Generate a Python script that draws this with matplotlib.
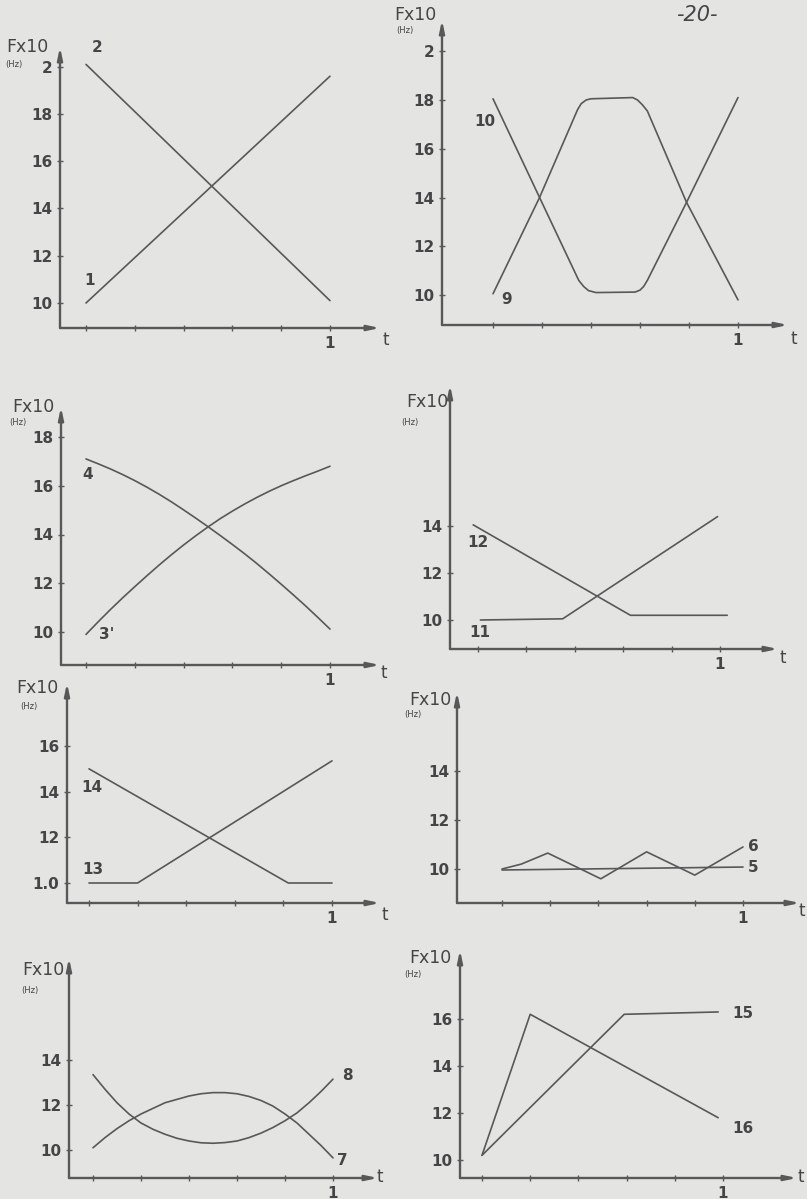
import matplotlib
matplotlib.use("Agg")
from matplotlib import pyplot as plt

W, H = 807, 1199
paper = "#e4e4e2"
ink = "#585858"
txt = "#454545"

x_ticks = [0, 0.2, 0.4, 0.6, 0.8, 1.0]
x_ticklabels = ["", "", "", "", "", "1"]

# panneau 1 : courbes 1 et 2
t_1 = [0, 1.0]
f_1 = [10.0, 19.6]
t_2 = [0, 1.0]
f_2 = [20.1, 10.1]
yt_a = [10, 12, 14, 16, 18, 20]
yl_a = ["10", "12", "14", "16", "18", "2"]

# panneau 2 : courbes 9 et 10
t_9 = [0, 0.19, 0.345, 0.36, 0.38, 0.40, 0.57, 0.59, 0.61, 0.63, 0.79, 1.0]
f_9 = [10.05, 14.0, 17.6, 17.85, 18.0, 18.05, 18.1, 18.0, 17.8, 17.55, 13.8, 9.8]
t_10 = [0, 0.19, 0.35, 0.37, 0.39, 0.42, 0.58, 0.60, 0.615, 0.63, 0.79, 1.0]
f_10 = [18.05, 14.0, 10.6, 10.35, 10.18, 10.1, 10.12, 10.2, 10.35, 10.6, 13.8, 18.1]
yt_b = [10, 12, 14, 16, 18, 20]
yl_b = ["10", "12", "14", "16", "18", "2"]

# panneau 3 : courbes 3 et 4
t_34 = [0, 0.05, 0.1, 0.15, 0.2, 0.25, 0.3, 0.35, 0.4, 0.45, 0.5,
        0.55, 0.6, 0.65, 0.7, 0.75, 0.8, 0.85, 0.9, 0.95, 1.0]
f_3 = [9.9, 10.42, 10.92, 11.4, 11.86, 12.31, 12.75, 13.17, 13.57, 13.95, 14.31,
       14.65, 14.96, 15.25, 15.52, 15.77, 16.0, 16.21, 16.41, 16.6, 16.8]
f_4 = [17.1, 16.9, 16.69, 16.46, 16.21, 15.94, 15.65, 15.34, 15.01, 14.67, 14.32,
       13.96, 13.59, 13.21, 12.81, 12.39, 11.96, 11.52, 11.07, 10.6, 10.12]
yt_c = [10, 12, 14, 16, 18]
yl_c = ["10", "12", "14", "16", "18"]

# panneau 4 : courbes 11 et 12
t_11 = [0.01, 0.35, 0.99]
f_11 = [10.0, 10.05, 14.4]
t_12 = [-0.02, 0.63, 1.03]
f_12 = [14.05, 10.2, 10.2]
yt_d = [10, 12, 14]
yl_d = ["10", "12", "14"]

# panneau 5 : courbes 13 et 14
t_13 = [0, 0.2, 1.0]
f_13 = [10.0, 10.0, 15.35]
t_14 = [0, 0.82, 1.0]
f_14 = [15.0, 10.0, 10.0]
yt_e = [10, 12, 14, 16]
yl_e = ["1.0", "12", "14", "16"]

# panneau 6 : courbes 5 et 6
t_5 = [0, 1.0]
f_5 = [9.96, 10.08]
t_6 = [0, 0.08, 0.19, 0.41, 0.6, 0.8, 1.0]
f_6 = [10.0, 10.2, 10.65, 9.6, 10.7, 9.75, 10.9]
yt_f = [10, 12, 14]
yl_f = ["10", "12", "14"]

# panneau 7 : courbes 7 et 8
t_78 = [0, 0.05, 0.1, 0.15, 0.2, 0.25, 0.3, 0.35, 0.4, 0.45, 0.5,
        0.55, 0.6, 0.65, 0.7, 0.75, 0.8, 0.85, 0.9, 0.95, 1.0]
f_7 = [10.1, 10.55, 10.95, 11.3, 11.6, 11.85, 12.1, 12.25, 12.4, 12.5, 12.55,
       12.55, 12.5, 12.38, 12.2, 11.95, 11.6, 11.2, 10.7, 10.2, 9.65]
f_8 = [13.35, 12.7, 12.1, 11.6, 11.2, 10.92, 10.7, 10.52, 10.4, 10.32, 10.3,
       10.33, 10.4, 10.55, 10.75, 11.0, 11.3, 11.65, 12.1, 12.6, 13.15]
yt_g = [10, 12, 14]
yl_g = ["10", "12", "14"]

# panneau 8 : courbes 15 et 16
t_15 = [0, 0.59, 0.98]
f_15 = [10.2, 16.2, 16.3]
t_16 = [0, 0.2, 0.98]
f_16 = [10.2, 16.2, 11.8]
yt_h = [10, 12, 14, 16]
yl_h = ["10", "12", "14", "16"]

plt.rcParams["font.family"] = ["DejaVu Sans"]
fig = plt.figure(figsize=(W / 100, H / 100), dpi=100, facecolor=paper)


def px(x, y):
    return x / W, 1 - y / H


def panel(box, tcal, fcal, yticks, ylabels, toff):
    """box = (gauche, haut, droite, bas) en pixels ; tcal = pixels de t=0 et t=1 ;
    fcal = deux couples (F, pixel y) ; toff = decalage du 't' en pixels"""
    left, top, right, bottom = box
    ta, tb = tcal
    (fa, ya), (fb, yb) = fcal
    ax = fig.add_axes([left / W, 1 - bottom / H, (right - left) / W, (bottom - top) / H])
    ax.set_xlim((left - ta) / (tb - ta), (right - ta) / (tb - ta))
    upf = (ya - yb) / (fb - fa)
    ax.set_ylim(fa - (bottom - ya) / upf, fa + (ya - top) / upf)
    ax.patch.set_alpha(0)
    for s in ax.spines.values():
        s.set_visible(False)
    arrow = dict(arrowstyle="-|>,head_length=0.7,head_width=0.15", color=ink, lw=1.7,
                 shrinkA=0, shrinkB=0)
    ax.annotate("", xy=(0, 1), xytext=(0, 0), xycoords="axes fraction", arrowprops=arrow)
    ax.annotate("", xy=(1, 0), xytext=(0, 0), xycoords="axes fraction", arrowprops=arrow)
    ax.set_xticks(x_ticks)
    ax.set_xticklabels(x_ticklabels)
    ax.set_yticks(yticks)
    ax.set_yticklabels(ylabels)
    ax.tick_params(direction="inout", length=5, width=1, color=ink, labelcolor=txt,
                   labelsize=11, pad=3)
    for lab in ax.get_yticklabels() + ax.get_xticklabels():
        lab.set_fontweight("bold")
    ax.annotate("t", xy=(1, 0), xycoords="axes fraction",
                xytext=(toff[0] * 0.72, -toff[1] * 0.72), textcoords="offset points",
                fontsize=12, color=txt, ha="center", va="center")
    return ax


def curve(ax, t, f):
    ax.plot(t, f, color=ink, lw=1.2, clip_on=False, solid_capstyle="round",
            solid_joinstyle="round")


def label(ax, t, f, s, ha="center"):
    ax.text(t, f, s, fontsize=11, color=txt, ha=ha, va="center", fontweight="bold")


def unit(xf, yf, xh, yh):
    fig.text(*px(xf, yf), "Fx10", fontsize=12.5, color=txt, ha="center", va="center")
    fig.text(*px(xh, yh), "(Hz)", fontsize=6, color=txt, ha="center", va="center")


# 1 - 2
ax = panel((60, 47, 380, 328), (86, 330), ((10, 303), (18, 114)), yt_a, yl_a, (6, 12))
curve(ax, t_1, f_1)
curve(ax, t_2, f_2)
label(ax, 0.045, 20.8, "2")
label(ax, 0.016, 10.97, "1")
unit(27, 47, 14, 64)

# 9 - 10
ax = panel((442, 20, 788, 325), (493, 738), ((10, 295), (18, 100)), yt_b, yl_b, (6, 14))
curve(ax, t_9, f_9)
curve(ax, t_10, f_10)
label(ax, -0.033, 17.1, "10")
label(ax, 0.057, 9.8, "9")
unit(415, 15, 405, 31)
fig.text(*px(697, 15), "-20-", fontsize=15, color=txt, ha="center", va="center",
         fontstyle="italic")

# 3 - 4
ax = panel((61, 407, 380, 665), (86, 330), ((10, 632), (18, 437)), yt_c, yl_c, (4, 8))
curve(ax, t_34, f_3)
curve(ax, t_34, f_4)
label(ax, 0.008, 16.45, "4")
label(ax, 0.086, 9.88, "3'")
unit(33, 407, 18, 423)

# 11 - 12
ax = panel((450, 385, 778, 649), (478, 720), ((10, 620), (14, 526)), yt_d, yl_d, (5, 9))
curve(ax, t_11, f_11)
curve(ax, t_12, f_12)
label(ax, 0.0, 13.3, "12")
label(ax, 0.008, 9.45, "11")
unit(427, 402, 410, 422)

# 13 - 14
ax = panel((67, 683, 380, 903), (89, 332), ((10, 883), (16, 746)), yt_e, yl_e, (5, 12))
curve(ax, t_13, f_13)
curve(ax, t_14, f_14)
label(ax, 0.012, 14.17, "14")
label(ax, 0.016, 10.57, "13")
unit(37, 688, 29, 707)

# 5 - 6
ax = panel((457, 692, 800, 903), (502, 743), ((10, 869), (14, 771)), yt_f, yl_f, (2, 8))
curve(ax, t_5, f_5)
curve(ax, t_6, f_6)
label(ax, 1.02, 10.9, "6", ha="left")
label(ax, 1.02, 10.08, "5", ha="left")
unit(430, 700, 413, 714)

# 7 - 8
ax = panel((69, 958, 378, 1178), (93, 333), ((10, 1150), (14, 1060)), yt_g, yl_g, (2, -1))
curve(ax, t_78, f_7)
curve(ax, t_78, f_8)
label(ax, 1.06, 13.33, "8")
label(ax, 1.04, 9.55, "7")
unit(43, 970, 30, 991)

# 15 - 16
ax = panel((460, 950, 797, 1178), (482, 723), ((10, 1160), (16, 1019)), yt_h, yl_h, (4, -1))
curve(ax, t_15, f_15)
curve(ax, t_16, f_16)
label(ax, 1.04, 16.25, "15", ha="left")
label(ax, 1.04, 11.36, "16", ha="left")
unit(430, 958, 413, 974)

fig.savefig("out.png", dpi=100, facecolor=paper)
